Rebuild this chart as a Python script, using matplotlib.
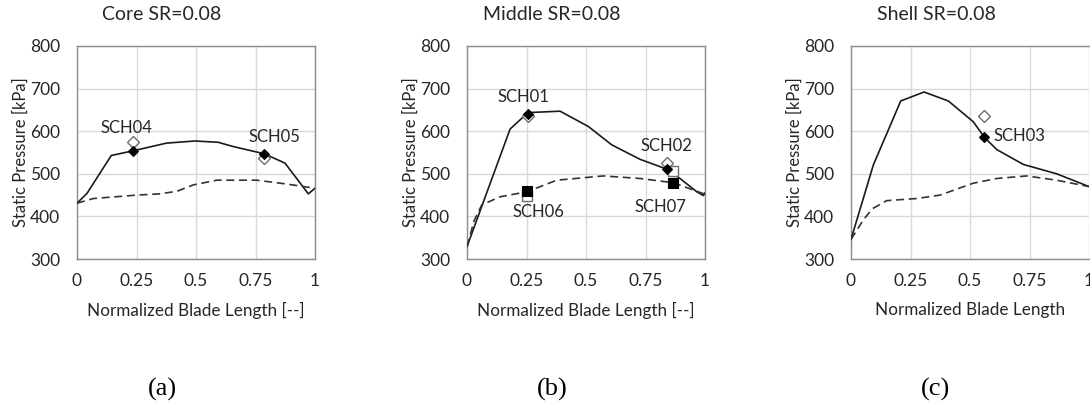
import matplotlib
matplotlib.use("Agg")
import matplotlib.pyplot as plt

plt.rcParams["font.family"] = ["Lato", "DejaVu Sans"]

# ---- blade static pressure, core section ----
core_x_ps = [0, 0.042, 0.144, 0.236, 0.376, 0.495, 0.593, 0.656, 0.787, 0.874, 0.972, 1.0]
core_p_ps = [431, 454, 543, 554, 572, 577, 574, 564, 547, 525, 453, 466]
core_x_ss = [0, 0.069, 0.251, 0.349, 0.42, 0.489, 0.587, 0.755, 0.881, 1.0]
core_p_ss = [431, 442, 450, 453, 459, 474, 485, 485, 476, 466]
core_probe_x = [0.236, 0.787]
core_probe_sim = [554, 547]
core_probe_meas = [575, 538]
core_probe_names = ["SCH04", "SCH05"]

# ---- middle section ----
mid_x_ps = [0, 0.181, 0.253, 0.272, 0.391, 0.51, 0.608, 0.727, 0.839, 0.895, 0.965, 0.993, 1.0]
mid_p_ps = [329, 605, 642, 644, 647, 611, 568, 534, 511, 489, 458, 449, 455]
mid_x_ss = [0, 0.03, 0.062, 0.139, 0.253, 0.377, 0.573, 0.727, 0.867, 1.0]
mid_p_ss = [329, 390, 427, 446, 458, 485, 495, 489, 479, 452]
mid_probe_x = [0.256, 0.839]
mid_probe_sim = [641, 511]
mid_probe_meas = [636, 525]
mid_probe_names = ["SCH01", "SCH02"]
mid_ss_probe_x = [0.251, 0.866]
mid_ss_probe_sim = [459, 479]
mid_ss_probe_meas = [447, 507]
mid_ss_probe_names = ["SCH06", "SCH07"]

# ---- shell section ----
shell_x_ps = [0, 0.094, 0.209, 0.307, 0.409, 0.514, 0.56, 0.612, 0.724, 0.864, 1.0]
shell_p_ps = [346, 521, 671, 692, 671, 622, 586, 557, 522, 500, 470]
shell_x_ss = [0, 0.052, 0.09, 0.15, 0.276, 0.374, 0.514, 0.612, 0.738, 0.864, 1.0]
shell_p_ss = [346, 392, 418, 437, 442, 450, 478, 489, 495, 485, 470]
shell_probe_x = [0.56]
shell_probe_sim = [586]
shell_probe_meas = [636]
shell_probe_names = ["SCH03"]

titles = ["Core SR=0.08", "Middle SR=0.08", "Shell SR=0.08"]
xlabels = ["Normalized Blade Length [--]", "Normalized Blade Length [--]",
           "Normalized Blade Length"]
captions = ["(a)", "(b)", "(c)"]
x_ticks = [0, 0.25, 0.5, 0.75, 1]
x_tick_labels = ["0", "0.25", "0.5", "0.75", "1"]
y_ticks = [300, 400, 500, 600, 700, 800]

W, H = 1090, 404
fig = plt.figure(figsize=(W / 100, H / 100), dpi=100)

lefts_px = [77, 467, 851]
title_cx = [162, 552, 936]
ax_w, ax_top, ax_bot = 238, 46, 259

TXT = "#262626"
SOLID = dict(color="#1a1a1a", lw=1.2, solid_joinstyle="round", zorder=3)
DASHED = dict(color="#333333", lw=1.2, linestyle=(0, (4.8, 2.8)), zorder=3)


def make_axes(i):
    ax = fig.add_axes([lefts_px[i] / W, (H - ax_bot) / H, ax_w / W, (ax_bot - ax_top) / H])
    ax.set_xlim(0, 1)
    ax.set_ylim(300, 800)
    ax.set_xticks(x_ticks)
    ax.set_xticklabels(x_tick_labels)
    ax.set_yticks(y_ticks)
    ax.grid(True, color="#d9d9d9", lw=1.0, zorder=0)
    ax.set_axisbelow(True)
    for s in ax.spines.values():
        s.set_color("#8c8c8c")
        s.set_linewidth(1.0)
    ax.tick_params(axis="both", length=0, labelsize=12.5, colors=TXT)
    ax.tick_params(axis="y", pad=12)
    ax.tick_params(axis="x", pad=10)
    ax.set_ylabel("Static Pressure [kPa]", fontsize=12, color=TXT, va="center")
    ax.yaxis.set_label_coords(-56 / ax_w, 0.5)
    ax.set_xlabel(xlabels[i], fontsize=12.3, color=TXT, va="center")
    ax.xaxis.set_label_coords(0.5, -(310 - ax_bot) / (ax_bot - ax_top))
    fig.text(title_cx[i] / W, 1 - 15 / H, titles[i], ha="center", va="center",
             fontsize=14, color=TXT)
    fig.text(title_cx[i] / W, 1 - 389 / H, captions[i], ha="center", va="center",
             fontsize=19, color="black", family="Liberation Serif")
    return ax


def probes(ax, xs, sim, meas, marker, sim_ms, meas_ms):
    ax.plot(xs, meas, linestyle="none", marker=marker, ms=meas_ms, mfc="white",
            mec="#6e6e6e", mew=1.0, zorder=4)
    ax.plot(xs, sim, linestyle="none", marker=marker, ms=sim_ms, mfc="black",
            mec="black", mew=0.8, zorder=5)


def label(ax, name, x, y, dx, dy, ha="center"):
    ax.annotate(name, (x, y), xytext=(dx, dy), textcoords="offset points",
                ha=ha, va="center", fontsize=12, color=TXT, zorder=6)


# (a) core
ax = make_axes(0)
ax.plot(core_x_ps, core_p_ps, **SOLID)
ax.plot(core_x_ss, core_p_ss, **DASHED)
probes(ax, core_probe_x, core_probe_sim, core_probe_meas, "D", 5, 6)
label(ax, core_probe_names[0], core_probe_x[0], core_probe_sim[0], -4.6, 16.3)
label(ax, core_probe_names[1], core_probe_x[1], core_probe_sim[1], 7.2, 12.2)

# (b) middle
ax = make_axes(1)
ax.plot(mid_x_ps, mid_p_ps, **SOLID)
ax.plot(mid_x_ss, mid_p_ss, **DASHED)
probes(ax, mid_probe_x, mid_probe_sim, mid_probe_meas, "D", 5, 6)
probes(ax, mid_ss_probe_x, mid_ss_probe_sim, mid_ss_probe_meas, "s", 7, 7.5)
label(ax, mid_probe_names[0], mid_probe_x[0], mid_probe_sim[0], -2.9, 12.0)
label(ax, mid_probe_names[1], mid_probe_x[1], mid_probe_sim[1], 0.0, 16.3)
label(ax, mid_ss_probe_names[0], mid_ss_probe_x[0], mid_ss_probe_sim[0], 8.4, -14.7)
label(ax, mid_ss_probe_names[1], mid_ss_probe_x[1], mid_ss_probe_sim[1], -9.1, -17.2)

# (c) shell
ax = make_axes(2)
ax.spines["right"].set_visible(False)
ax.plot(shell_x_ps, shell_p_ps, **SOLID)
ax.plot(shell_x_ss, shell_p_ss, **DASHED)
probes(ax, shell_probe_x, shell_probe_sim, shell_probe_meas, "D", 5, 6)
label(ax, shell_probe_names[0], shell_probe_x[0], shell_probe_sim[0], 6.5, 1.0, ha="left")

fig.savefig("out.png", dpi=100, facecolor="white")
